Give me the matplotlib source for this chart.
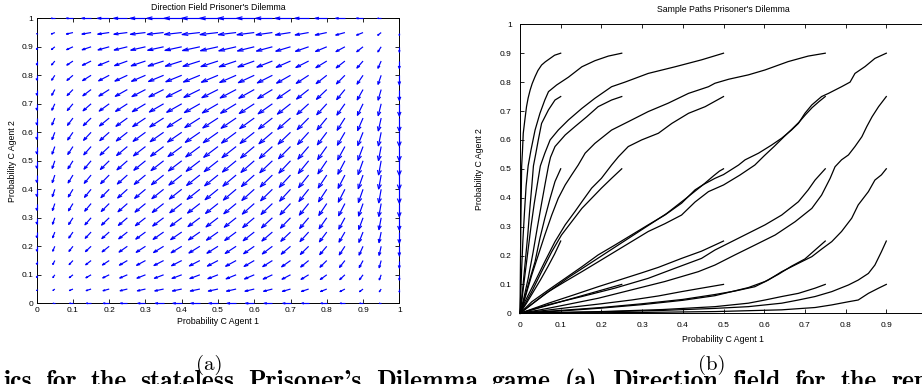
import numpy as np
import matplotlib
matplotlib.use("Agg")
import matplotlib.pyplot as plt
from matplotlib.collections import LineCollection

# ---------------- data ----------------
# Prisoner's Dilemma payoffs (rows: own action C, D; cols: other's action C, D)
payoff_agent1 = [[3.0, 0.0], [5.0, 1.0]]
payoff_agent2 = [[3.0, 0.0], [5.0, 1.0]]
grid_values = [0.0, 0.05, 0.1, 0.15, 0.2, 0.25, 0.3, 0.35, 0.4, 0.45, 0.5,
               0.55, 0.6, 0.65, 0.7, 0.75, 0.8, 0.85, 0.9, 0.95, 1.0]

tick_values = [0, 0.1, 0.2, 0.3, 0.4, 0.5, 0.6, 0.7, 0.8, 0.9, 1]
tick_labels = ["0", "0.1", "0.2", "0.3", "0.4", "0.5", "0.6", "0.7", "0.8", "0.9", "1"]

# sample paths: (x, y) points from start to origin
path_01_09 = [(0.1, 0.9), (0.085, 0.893), (0.074, 0.882), (0.062, 0.87), (0.053, 0.859), (0.044, 0.84),
              (0.037, 0.819), (0.03, 0.795), (0.025, 0.773), (0.02, 0.745), (0.016, 0.715), (0.012, 0.67),
              (0.008, 0.623), (0.006, 0.56), (0.004, 0.508), (0.003, 0.4), (0.002, 0.3), (0.001, 0.15), (0, 0)]
path_025_09 = [(0.25, 0.9), (0.217, 0.89), (0.184, 0.874), (0.152, 0.853), (0.119, 0.817), (0.09, 0.79),
               (0.07, 0.767), (0.061, 0.738), (0.049, 0.692), (0.037, 0.634), (0.027, 0.565), (0.02, 0.51),
               (0.015, 0.44), (0.011, 0.35), (0.007, 0.25), (0.004, 0.15), (0, 0)]
path_05_09 = [(0.5, 0.9), (0.446, 0.877), (0.381, 0.853), (0.315, 0.83), (0.258, 0.80), (0.225, 0.784),
              (0.184, 0.744), (0.152, 0.709), (0.119, 0.669), (0.094, 0.634), (0.074, 0.60), (0.061, 0.554),
              (0.05, 0.51), (0.043, 0.45), (0.035, 0.38), (0.027, 0.3), (0.019, 0.21), (0.011, 0.12),
              (0.005, 0.05), (0, 0)]
path_075_09 = [(0.75, 0.9), (0.708, 0.89), (0.659, 0.871), (0.602, 0.842), (0.561, 0.825), (0.513, 0.81),
               (0.479, 0.796), (0.463, 0.784), (0.414, 0.761), (0.364, 0.727), (0.315, 0.698), (0.266, 0.663),
               (0.225, 0.634), (0.184, 0.588), (0.16, 0.554), (0.143, 0.513), (0.127, 0.479), (0.111, 0.444),
               (0.094, 0.398), (0.078, 0.34), (0.061, 0.271), (0.045, 0.202), (0.029, 0.133), (0.012, 0.052),
               (0, 0)]
path_09_09 = [(0.9, 0.9), (0.872, 0.882), (0.848, 0.854), (0.823, 0.83), (0.811, 0.80), (0.79, 0.784),
              (0.758, 0.761), (0.741, 0.75), (0.717, 0.721), (0.7, 0.692), (0.684, 0.657), (0.667, 0.634),
              (0.643, 0.606), (0.618, 0.582), (0.586, 0.554), (0.553, 0.531), (0.537, 0.513), (0.5, 0.48),
              (0.479, 0.467), (0.45, 0.445), (0.43, 0.427), (0.397, 0.381), (0.356, 0.34), (0.315, 0.306),
              (0.274, 0.271), (0.233, 0.236), (0.192, 0.202), (0.152, 0.161), (0.111, 0.121), (0.07, 0.081),
              (0.029, 0.04), (0, 0)]
path_01_075 = [(0.1, 0.75), (0.086, 0.738), (0.07, 0.704), (0.053, 0.657), (0.045, 0.6), (0.039, 0.554),
               (0.033, 0.51), (0.029, 0.44), (0.024, 0.36), (0.019, 0.27), (0.013, 0.18), (0.007, 0.09), (0, 0)]
path_025_075 = [(0.25, 0.75), (0.225, 0.738), (0.192, 0.715), (0.164, 0.68), (0.135, 0.646), (0.111, 0.617),
                (0.086, 0.577), (0.075, 0.54), (0.07, 0.51), (0.062, 0.45), (0.053, 0.38), (0.043, 0.3),
                (0.032, 0.21), (0.02, 0.12), (0.009, 0.05), (0, 0)]
path_05_075 = [(0.5, 0.75), (0.455, 0.715), (0.414, 0.692), (0.373, 0.657), (0.34, 0.623), (0.299, 0.60),
               (0.266, 0.577), (0.242, 0.542), (0.225, 0.513), (0.2, 0.467), (0.176, 0.433), (0.152, 0.386),
               (0.135, 0.352), (0.111, 0.306), (0.086, 0.248), (0.061, 0.179), (0.037, 0.11), (0.012, 0.04),
               (0, 0)]
path_075_075 = [(0.75, 0.75), (0.735, 0.733), (0.718, 0.712), (0.702, 0.688), (0.686, 0.662), (0.668, 0.637),
                (0.648, 0.61), (0.625, 0.578), (0.6, 0.545), (0.577, 0.513), (0.54, 0.478), (0.5, 0.444),
                (0.463, 0.421), (0.43, 0.385), (0.397, 0.34), (0.356, 0.31), (0.315, 0.283), (0.274, 0.248),
                (0.233, 0.213), (0.192, 0.178), (0.152, 0.144), (0.111, 0.11), (0.07, 0.075), (0.035, 0.038),
                (0, 0)]
path_09_075 = [(0.9, 0.75), (0.881, 0.715), (0.865, 0.68), (0.852, 0.646), (0.84, 0.611), (0.823, 0.577),
               (0.807, 0.548), (0.79, 0.531), (0.774, 0.507), (0.762, 0.467), (0.741, 0.409), (0.717, 0.363),
               (0.676, 0.317), (0.627, 0.271), (0.577, 0.236), (0.528, 0.202), (0.479, 0.167), (0.438, 0.144),
               (0.356, 0.11), (0.274, 0.081), (0.192, 0.052), (0.111, 0.029), (0.05, 0.012), (0, 0)]
path_01_05 = [(0.1, 0.5), (0.086, 0.456), (0.074, 0.398), (0.061, 0.329), (0.049, 0.26), (0.037, 0.179),
              (0.02, 0.098), (0.008, 0.035), (0, 0)]
path_025_05 = [(0.25, 0.5), (0.225, 0.467), (0.2, 0.433), (0.176, 0.398), (0.152, 0.363), (0.127, 0.317),
               (0.102, 0.271), (0.078, 0.213), (0.053, 0.144), (0.029, 0.075), (0, 0)]
path_05_05 = [(0.5, 0.5), (0.49, 0.492), (0.475, 0.475), (0.45, 0.445), (0.41, 0.4), (0.36, 0.345),
              (0.3, 0.29), (0.24, 0.235), (0.18, 0.18), (0.12, 0.125), (0.06, 0.065), (0, 0)]
path_075_05 = [(0.75, 0.5), (0.725, 0.461), (0.708, 0.427), (0.684, 0.386), (0.643, 0.34), (0.602, 0.306),
               (0.561, 0.277), (0.52, 0.248), (0.479, 0.219), (0.446, 0.19), (0.381, 0.156), (0.315, 0.121),
               (0.233, 0.087), (0.152, 0.058), (0.07, 0.03), (0, 0)]
path_09_05 = [(0.9, 0.5), (0.888, 0.479), (0.872, 0.461), (0.856, 0.421), (0.831, 0.375), (0.815, 0.329),
              (0.79, 0.283), (0.766, 0.248), (0.741, 0.222), (0.717, 0.196), (0.684, 0.173), (0.643, 0.144),
              (0.61, 0.115), (0.577, 0.092), (0.528, 0.077), (0.479, 0.065), (0.4, 0.048), (0.3, 0.033),
              (0.2, 0.02), (0.1, 0.01), (0, 0)]
path_01_025 = [(0.1, 0.25), (0.085, 0.205), (0.068, 0.16), (0.05, 0.115), (0.033, 0.075), (0.016, 0.035), (0, 0)]
path_05_025 = [(0.5, 0.25), (0.446, 0.215), (0.397, 0.19), (0.34, 0.159), (0.299, 0.14), (0.25, 0.118),
               (0.192, 0.092), (0.135, 0.065), (0.07, 0.035), (0, 0)]
path_075_025 = [(0.75, 0.25), (0.725, 0.219), (0.7, 0.188), (0.667, 0.163), (0.635, 0.135), (0.602, 0.11),
                (0.561, 0.089), (0.52, 0.075), (0.479, 0.061), (0.4, 0.045), (0.3, 0.03), (0.2, 0.018),
                (0.1, 0.008), (0, 0)]
path_09_025 = [(0.9, 0.25), (0.888, 0.213), (0.872, 0.167), (0.856, 0.138), (0.831, 0.115), (0.807, 0.098),
               (0.766, 0.075), (0.725, 0.058), (0.684, 0.046), (0.643, 0.035), (0.561, 0.023), (0.479, 0.017),
               (0.35, 0.01), (0.2, 0.005), (0, 0)]
path_025_01 = [(0.25, 0.1), (0.2, 0.08), (0.15, 0.06), (0.1, 0.04), (0.05, 0.02), (0, 0)]
path_05_01 = [(0.5, 0.1), (0.446, 0.087), (0.397, 0.075), (0.34, 0.06), (0.274, 0.046), (0.2, 0.033),
              (0.12, 0.02), (0.05, 0.008), (0, 0)]
path_075_01 = [(0.75, 0.1), (0.725, 0.087), (0.684, 0.069), (0.643, 0.058), (0.602, 0.046), (0.561, 0.035),
               (0.479, 0.023), (0.35, 0.013), (0.2, 0.006), (0, 0)]
path_09_01 = [(0.9, 0.1), (0.881, 0.087), (0.856, 0.069), (0.831, 0.046), (0.807, 0.04), (0.766, 0.029),
              (0.725, 0.02), (0.643, 0.012), (0.479, 0.006), (0.3, 0.003), (0, 0)]

sample_paths = [path_01_09, path_025_09, path_05_09, path_075_09, path_09_09,
                path_01_075, path_025_075, path_05_075, path_075_075, path_09_075,
                path_01_05, path_025_05, path_05_05, path_075_05, path_09_05,
                path_01_025, path_05_025, path_075_025, path_09_025,
                path_025_01, path_05_01, path_075_01, path_09_01]

title_left = "Direction Field Prisoner's Dilemma"
title_right = "Sample Paths Prisoner's Dilemma"
xlabel_text = "Probability C Agent 1"
ylabel_text = "Probability C Agent 2"
# justified caption line, split in three groups anchored at measured word positions (pixels)
caption_groups = [["ics", "for", "the", "stateless"],
                  ["Prisoner's", "Dilemma", "game", "(a)"],
                  ["Direction", "field", "for", "the", "replicator"]]
caption_anchor_px = [3, 248, 612]

# ---------------- figure ----------------
W, H = 922, 384
fig = plt.figure(figsize=(W / 100, H / 100), dpi=100)
sans = ["Liberation Sans", "DejaVu Sans"]
fs_tick = 6.0
fs_text = 6.3


def px_axes(l, t, r, b):
    return [l / W, 1 - b / H, (r - l) / W, (b - t) / H]


def style_axes(ax, pad):
    ax.set_xlim(0, 1)
    ax.set_ylim(0, 1)
    ax.set_xticks(tick_values)
    ax.set_yticks(tick_values)
    ax.set_xticklabels(tick_labels, fontfamily=sans, fontsize=fs_tick)
    ax.set_yticklabels(tick_labels, fontfamily=sans, fontsize=fs_tick)
    ax.tick_params(direction="in", top=True, right=True, length=2.9, width=0.6, pad=pad, colors="black")
    for s in ax.spines.values():
        s.set_linewidth(0.7)


# ---- left: direction field ----
axL = fig.add_axes(px_axes(36.7, 18.3, 399.3, 303.3))
style_axes(axL, 2.5)

A = np.array(payoff_agent1)
B = np.array(payoff_agent2)
X, Y = np.meshgrid(np.array(grid_values), np.array(grid_values))
fit1_C = A[0, 0] * Y + A[0, 1] * (1 - Y)
fit1_D = A[1, 0] * Y + A[1, 1] * (1 - Y)
fit2_C = B[0, 0] * X + B[0, 1] * (1 - X)
fit2_D = B[1, 0] * X + B[1, 1] * (1 - X)
U = X * (1 - X) * (fit1_C - fit1_D)
V = Y * (1 - Y) * (fit2_C - fit2_D)

# MATLAB-like quiver autoscaling
spacing = grid_values[1] - grid_values[0]
lens = np.sqrt((U / spacing) ** 2 + (V / spacing) ** 2)
scale = 1.1 / lens.max()
Us, Vs = U * scale, V * scale
alpha, beta = 0.33, 0.33
segs = []
for x, y, u, v in zip(X.ravel(), Y.ravel(), Us.ravel(), Vs.ravel()):
    tip = (x + u, y + v)
    segs.append([(x, y), tip])
    h1 = (x + u - alpha * (u + beta * v), y + v - alpha * (v - beta * u))
    h2 = (x + u - alpha * (u - beta * v), y + v - alpha * (v + beta * u))
    segs.append([h1, tip, h2])
lc = LineCollection(segs, colors=(0, 0, 1), linewidths=0.85, zorder=3, clip_on=False)
axL.add_collection(lc)

axL.text(0.5, (303.3 - 7.3) / 285, title_left, transform=axL.transAxes, ha="center", va="center",
         fontfamily=sans, fontsize=fs_text)
axL.text(0.5, (303.3 - 322) / 285, xlabel_text, transform=axL.transAxes, ha="center", va="center",
         fontfamily=sans, fontsize=fs_text)
axL.text((12 - 36.7) / 362.6, 0.5, ylabel_text, transform=axL.transAxes, ha="center", va="center",
         rotation=90, fontfamily=sans, fontsize=fs_text)

# ---- right: sample paths ----
axR = fig.add_axes(px_axes(520, 24.3, 927, 313.3))
style_axes(axR, 6.0)
for p in sample_paths:
    arr = np.array(p)
    axR.plot(arr[:, 0], arr[:, 1], color="black", lw=0.9, solid_joinstyle="round", clip_on=False)

axR.text(0.5, (313.3 - 10) / 289, title_right, transform=axR.transAxes, ha="center", va="center",
         fontfamily=sans, fontsize=fs_text)
axR.text(0.5, (313.3 - 339) / 289, xlabel_text, transform=axR.transAxes, ha="center", va="center",
         fontfamily=sans, fontsize=fs_text)
axR.text((480 - 520) / 407, 0.5, ylabel_text, transform=axR.transAxes, ha="center", va="center",
         rotation=90, fontfamily=sans, fontsize=fs_text)

# ---- sub-captions and caption ----
fig.text(209 / W, (H - 369.8) / H, "(a)", fontfamily="cmr10", fontsize=15, ha="center", va="baseline")
fig.text(712 / W, (H - 369.8) / H, "(b)", fontfamily="cmr10", fontsize=15, ha="center", va="baseline")

cap_fs = 18.5
cap_y = (H - 388) / H
renderer = fig.canvas.get_renderer()


def word_width(word):
    t = fig.text(0, 0, word, fontfamily="cmb10", fontsize=cap_fs)
    w = t.get_window_extent(renderer).width
    t.remove()
    return w


gap = None
for gi, group in enumerate(caption_groups):
    widths = [word_width(w) for w in group]
    if gi + 1 < len(caption_anchor_px):
        gap = (caption_anchor_px[gi + 1] - caption_anchor_px[gi] - sum(widths)) / len(group)
    xpos = caption_anchor_px[gi]
    for word, wd in zip(group, widths):
        fig.text(xpos / W, cap_y, word, fontfamily="cmb10", fontsize=cap_fs, ha="left", va="baseline")
        xpos += wd + gap

fig.savefig("out.png", dpi=100)
